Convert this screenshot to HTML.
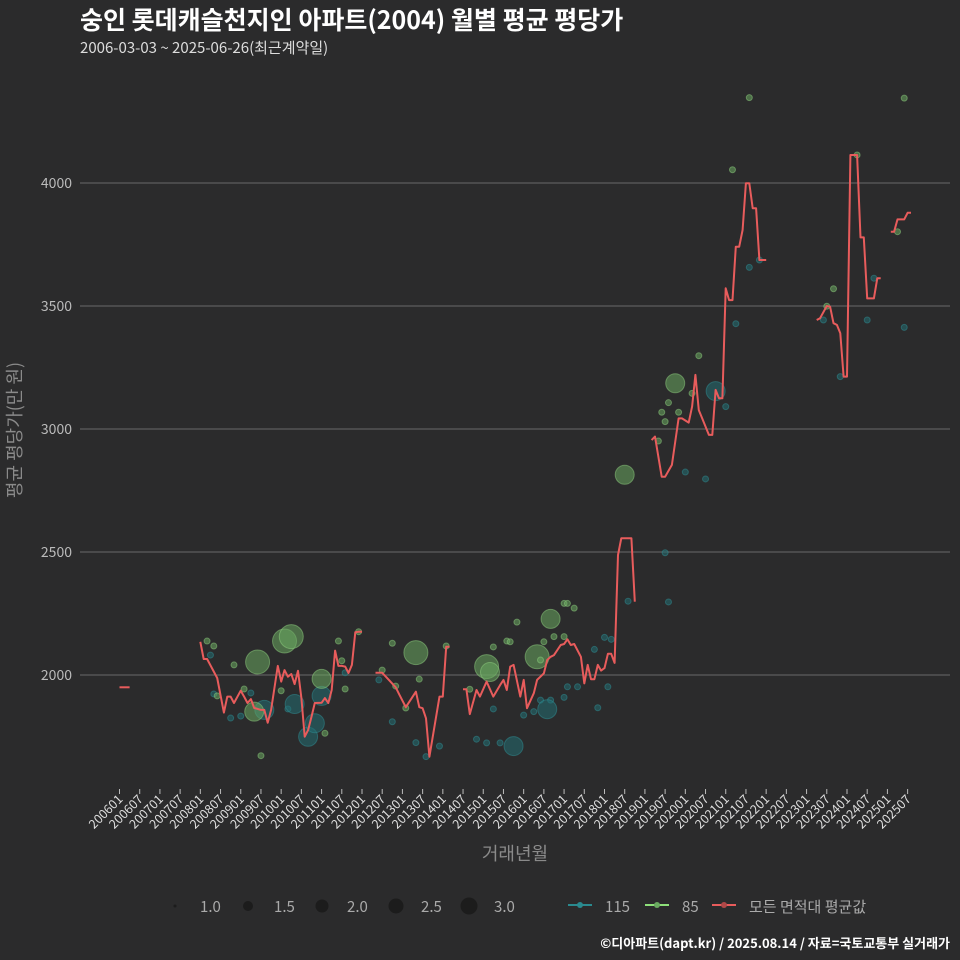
<!DOCTYPE html>
<html><head><meta charset="utf-8">
<style>
html,body{margin:0;padding:0;background:#2b2b2c;}
svg{display:block;font-family:"Noto Sans CJK KR","Liberation Sans",sans-serif;}
</style></head>
<body>
<svg id="chart" width="960" height="960" viewBox="0 0 960 960">
<rect x="0" y="0" width="960" height="960" fill="#2b2b2c"/>
<text x="80" y="29" font-size="25" font-weight="bold" fill="#ffffff">숭인 롯데캐슬천지인 아파트(2004) 월별 평균 평당가</text>
<text x="80" y="53" font-size="15" fill="#dddddd">2006-03-03 ~ 2025-06-26(최근계약일)</text>
<g id="grid"></g>
<g id="yaxis"></g>
<g id="xaxis"></g>
<g id="points"></g>
<g id="lines"></g>
<text x="0" y="0" transform="translate(21,430) rotate(-90)" text-anchor="middle" font-size="18" fill="#8a8a8a">평균 평당가(만 원)</text>
<text x="515" y="860" text-anchor="middle" font-size="18" fill="#8a8a8a">거래년월</text>
<g id="legend">
  <circle cx="175" cy="906" r="1.5" fill="#1c1c1c"/>
  <text x="200" y="912" font-size="15" fill="#aaaaaa">1.0</text>
  <circle cx="248" cy="906" r="5" fill="#1c1c1c"/>
  <text x="274" y="912" font-size="15" fill="#aaaaaa">1.5</text>
  <circle cx="322" cy="906" r="6.5" fill="#1c1c1c"/>
  <text x="347" y="912" font-size="15" fill="#aaaaaa">2.0</text>
  <circle cx="396" cy="906" r="7.5" fill="#1c1c1c"/>
  <text x="421" y="912" font-size="15" fill="#aaaaaa">2.5</text>
  <circle cx="469" cy="906" r="8.5" fill="#1c1c1c"/>
  <text x="494" y="912" font-size="15" fill="#aaaaaa">3.0</text>
  <line x1="568" y1="905" x2="592" y2="905" stroke="#2a8a8f" stroke-width="2"/>
  <circle cx="580" cy="905" r="3" fill="#2a8a8f"/>
  <text x="605" y="912" font-size="15" fill="#aaaaaa">115</text>
  <line x1="645" y1="905" x2="669" y2="905" stroke="#8ee07a" stroke-width="2"/>
  <circle cx="657" cy="905" r="3" fill="#6aaa60"/>
  <text x="682" y="912" font-size="15" fill="#aaaaaa">85</text>
  <line x1="712" y1="905" x2="736" y2="905" stroke="#e85c5c" stroke-width="2"/>
  <circle cx="724" cy="905" r="3" fill="#b04848"/>
  <text x="749" y="912" font-size="15" fill="#aaaaaa">모든 면적대 평균값</text>
</g>
<text x="950" y="948" text-anchor="end" font-size="13" font-weight="bold" fill="#ffffff">©디아파트(dapt.kr) / 2025.08.14 / 자료=국토교통부 실거래가</text>
</svg>
<script>
const yTicks = [2000, 2500, 3000, 3500, 4000];
const xTickLabels = [];
for (let y = 2006; y <= 2025; y++) { xTickLabels.push(y + "01"); xTickLabels.push(y + "07"); }

// average line segments: [month, value], null breaks segments
const avgMonths = ["200601","200604",null,
"200801","200802","200803","200806","200808","200809","200810","200811","200901","200902","200903","200904","200905","200906","200907","200908","200909","200910","200912","201001","201002","201003","201004","201005","201006","201007","201008","201009","201010","201011","201101","201102","201103","201104","201105","201106","201107","201108","201109","201110","201111","201112","201201",null,
"201205","201207","201209","201211","201212","201302","201305","201306","201307","201308","201309","201312","201401","201402","201403",null,
"201407","201408","201409","201411","201412","201502","201504","201506","201507","201508","201509","201510","201512","201601","201602","201604","201605","201607","201608","201609","201610","201612","201701","201702","201703","201704","201706","201707","201708","201709","201710","201711","201712","201801","201802","201803","201804","201805","201806","201809","201810",null,
"201903","201904","201906","201907","201909","201911","201912","202002","202003","202004","202005","202006","202008","202009","202010","202011","202012","202101","202102","202103","202104","202105","202106","202107","202108","202109","202110","202111","202201",null,
"202304","202305","202307","202308","202309","202310","202311","202312","202401","202402","202404","202405","202406","202407","202409","202410","202411",null,
"202502","202503","202504","202506","202507","202508"];
const avgValues = [1950,1950,null,
2135,2065,2065,1988,1847,1912,1912,1886,1936,1912,1886,1902,1866,1862,1858,1858,1806,1858,2037,1973,2020,1993,2004,1963,2017,1906,1749,1776,1830,1886,1887,1906,1886,1939,2099,2037,2037,2034,2008,2041,2174,2176,2176,null,
2009,2009,1980,1950,1923,1869,1932,1869,1865,1824,1668,1912,1912,2115,2115,null,
1942,1942,1841,1939,1912,1973,1912,1959,1980,1939,2034,2041,1912,1980,1865,1926,1980,2007,2061,2074,2081,2122,2126,2145,2122,2126,2074,1966,2041,1983,1983,2041,2018,2028,2086,2086,2049,2488,2556,2556,2298,null,
2955,2969,2806,2806,2854,3043,3043,3026,3091,3220,3077,3043,2976,2976,3159,3125,3125,3572,3524,3524,3741,3741,3809,3999,3999,3897,3897,3687,3687,null,
3443,3450,3500,3497,3430,3423,3389,3213,3213,4114,4114,3779,3779,3531,3531,3613,3613,null,
3802,3802,3852,3852,3879,3879];

// 85 area transactions
const g85Months = ["200803","200805","200806","200811","200902","200905","200906","200907","201001","201002","201004","201101","201102","201106","201107","201108","201112","201207","201210","201211","201302","201305","201306","201402","201409","201502","201503","201504","201508","201509","201511","201605","201606","201607","201609","201610","201701","201702","201704","201701","201807","201905","201906","201907","201908","201911","202003","201910","202005","202103","202108","202307","202309","202404","202504","202506"];
const g85Values = [2138,2118,1915,2041,1943,1851,2053,1672,1936,2138,2156,1984,1763,2138,2058,1943,2176,2020,2129,1955,1866,2091,1983,2118,1942,2034,2012,2114,2138,2135,2215,2074,2061,2135,2228,2156,2291,2291,2272,2156,2814,2951,3068,3030,3107,3068,3145,3186,3298,4054,4347,3499,3570,4114,3802,4345];
const g85Counts = [1,1,1,1,1,2,3,1,1,3,3,2,1,1,1,1,1,1,1,1,1,3,1,1,1,3,2,1,1,1,1,3,1,1,2,1,1,1,1,1,2,1,1,1,1,1,1,2,1,1,1,1,1,1,1,1];

// 115 area transactions
const t115Months = ["200804","200805","200810","200901","200904","200908","201003","201005","201009","201011","201101","201108","201206","201210","201305","201308","201312","201411","201502","201506","201510","201504","201601","201604","201606","201609","201608","201701","201702","201705","201710","201711","201801","201803","201802","201808","201908","201907","202001","202007","202010","202101","202104","202108","202111","202306","202311","202407","202409","202506"];
const t115Values = [2081,1923,1825,1833,1927,1858,1862,1882,1749,1804,1915,2009,1980,1810,1725,1668,1711,1739,1724,1724,1711,1862,1837,1851,1898,1898,1861,1909,1952,1952,2104,1867,2153,2145,1952,2300,2297,2497,2825,2797,3154,3091,3428,3657,3687,3443,3213,3443,3613,3413];
const t115Counts = [1,1,1,1,1,2,1,2,2,2,2,1,1,1,1,1,1,1,1,1,2,1,1,1,1,1,2,1,1,1,1,1,1,1,1,1,1,1,1,1,2,1,1,1,1,1,1,1,1,1];

const NS = "http://www.w3.org/2000/svg";
const X0 = 119.5, XSTEP = 3.368;
function monthIndex(s){ return (parseInt(s.slice(0,4))-2006)*12 + parseInt(s.slice(4,6)) - 1; }
function xScale(s){ return X0 + monthIndex(s)*XSTEP; }
function yScale(v){ return 675 - (v-2000)*123/500; }
function rScale(c){ return c<=1 ? 3 : (c<=2 ? 9.5 : 12); }
function mk(tag, attrs){ const e=document.createElementNS(NS,tag); for(const k in attrs) e.setAttribute(k,attrs[k]); return e; }

const grid=document.getElementById('grid'), yaxis=document.getElementById('yaxis'), xaxis=document.getElementById('xaxis');
yTicks.forEach(t=>{
  const y=yScale(t);
  const l=mk('line',{x1:80,x2:950,y1:y,y2:y,stroke:'#6a6a6a','stroke-width':1});
  
  
  grid.appendChild(l);
  const tx=mk('text',{x:72,y:y+5,'text-anchor':'end','font-size':14,fill:'#bbbbbb'});
  
  
  tx.textContent=t; yaxis.appendChild(tx);
});
xTickLabels.forEach(lab=>{
  const x=xScale(lab);
  const tk=mk('line',{x1:x,x2:x,y1:789,y2:794,stroke:'#bbbbbb','stroke-width':1});
  
  
  xaxis.appendChild(tk);
  const tx=mk('text',{x:0,y:0,transform:'translate('+(x+4)+',800) rotate(-45)','text-anchor':'end','font-size':12.5,fill:'#dddddd'});
  
  
  tx.textContent=lab; xaxis.appendChild(tx);
});

const pts=document.getElementById('points');
function drawPts(ms,vs,cs,fill,stroke,name){
  ms.forEach((m,i)=>{
    const c=mk('circle',{cx:xScale(m),cy:yScale(vs[i]),r:rScale(cs[i]),fill:fill,'fill-opacity':0.55,stroke:stroke,'stroke-opacity':0.5,'stroke-width':1});
    
    
    pts.appendChild(c);
  });
}
drawPts(t115Months,t115Values,t115Counts,'#226d72','#2f8f95','area-115');
drawPts(g85Months,g85Values,g85Counts,'#6aa860','#8fd07f','area-85');

const lines=document.getElementById('lines');
let seg=[];
function flush(){
  if(seg.length){
    const p=mk('polyline',{points:seg.join(' '),fill:'none',stroke:'#e85c5c','stroke-width':2,'stroke-linejoin':'round'});
    
    
    lines.appendChild(p);
  }
  seg=[];
}
avgMonths.forEach((m,i)=>{
  if(m===null||avgValues[i]===null){flush();return;}
  seg.push(xScale(m).toFixed(1)+','+yScale(avgValues[i]).toFixed(1));
});
flush();
</script>
</body></html>
